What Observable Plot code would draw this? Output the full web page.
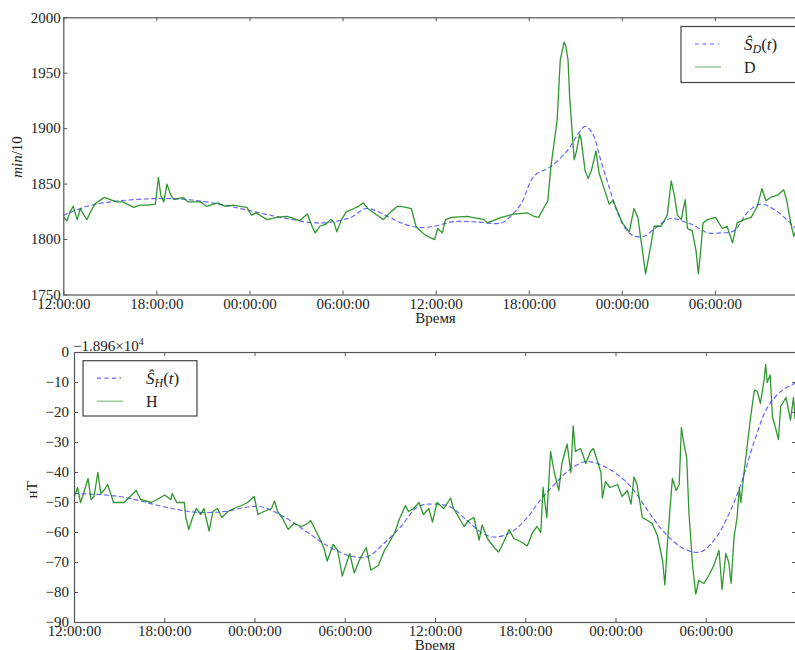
<!DOCTYPE html>
<html><head><meta charset="utf-8">
<script src="https://cdn.jsdelivr.net/npm/d3@7"></script>
<script src="https://cdn.jsdelivr.net/npm/@observablehq/plot@0.6"></script>
<style>
html,body{margin:0;padding:0;overflow:hidden;background:#fff;width:795px;height:650px;}
#c svg{display:block;max-width:none !important;}
</style></head><body><div id="c"></div>
<script>
// ---- data (hours after 12:00:00 of day 1) ----
const dHours = [0,0.2,0.4,0.6,0.86,1.07,1.3,1.5,1.75,2.0,
  2.4,2.6,3.0,3.4,3.8,4.1,4.5,4.9,5.4,5.9,
  6.1,6.25,6.45,6.65,6.9,7.1,7.7,8.0,8.8,9.2,
  9.9,10.4,10.9,11.8,12.1,12.4,13.1,13.7,14.4,15.2,
  15.7,16.0,16.2,16.5,16.9,17.2,17.4,17.6,17.9,18.2,
  18.7,19.0,19.3,19.6,20.2,20.6,21.0,21.5,21.75,22.4,
  22.7,22.9,23.3,23.9,24.1,24.4,24.6,25.0,26.0,27.1,
  27.3,28.2,29.0,29.9,30.3,30.6,31.0,31.2,31.4,31.6,
  31.8,32.0,32.25,32.35,32.5,32.6,32.75,32.9,33.05,33.25,
  33.35,33.6,33.8,34.0,34.3,34.5,34.85,35.15,35.4,35.7,
  36.0,36.45,36.75,37.0,37.2,37.5,37.75,38.05,38.5,38.9,
  39.15,39.35,39.55,39.8,40.05,40.2,40.5,40.75,40.9,41.05,
  41.2,41.5,42.0,42.45,42.75,43.1,43.4,43.85,44.3,44.7,
  45.0,45.25,45.55,46.0,46.4,46.6,46.85,47.05,47.3,47.6,48.0];
const dValues = [1820,1817,1825,1830,1818,1828,1822,1818,1826,1832,
  1836,1838,1836,1834,1834,1832,1829,1831,1831,1832,
  1856,1840,1834,1850,1840,1836,1838,1834,1834,1830,
  1833,1830,1831,1829,1822,1824,1818,1820,1821,1817,
  1823,1812,1806,1812,1814,1818,1816,1807,1818,1825,
  1828,1830,1833,1828,1822,1818,1824,1830,1830,1828,
  1812,1809,1804,1800,1810,1806,1818,1820,1821,1818,
  1815,1820,1823,1824,1821,1820,1830,1835,1866,1887,
  1908,1962,1978,1975,1962,1930,1900,1872,1880,1895,
  1890,1862,1855,1862,1880,1860,1845,1832,1835,1825,
  1815,1807,1828,1820,1800,1769,1788,1812,1812,1822,
  1853,1840,1822,1818,1836,1810,1808,1790,1769,1790,
  1815,1818,1820,1810,1812,1797,1815,1818,1820,1830,
  1846,1835,1838,1840,1845,1835,1815,1803,1812,1808,1810];

const sdHours = [0,1.5,3,6,8,10,12,14,16.5,18.5,
  19.5,21,21.75,22.8,23.9,25,26.5,28.2,28.8,29.5,
  30.3,31.4,32.5,33.0,33.6,34.1,34.6,35.2,35.7,36.3,
  36.8,37.4,38.1,39.1,40.0,40.6,41.5,42.3,43.2,44.1,
  44.9,45.8,46.6,47.2,48];
const sdValues = [1822,1830,1834,1837,1836,1832,1826,1820,1815,1820,
  1828,1820,1815,1811,1812,1816,1816,1815,1821,1833,
  1857,1866,1881,1892,1902,1895,1872,1845,1824,1808,
  1803,1803,1810,1819,1816,1813,1806,1806,1808,1825,
  1832,1827,1818,1810,1805];

const hHours = [0,0.2,0.4,0.6,0.9,1.1,1.3,1.55,1.75,1.95,
  2.2,2.4,2.6,3.3,3.7,4.1,4.4,5.1,5.5,6.0,
  6.4,6.5,6.8,7.3,7.4,7.6,7.85,8.1,8.4,8.6,
  8.95,9.2,9.5,9.8,10.2,10.6,11.1,11.5,11.95,12.2,
  12.6,13.1,13.3,13.5,13.8,14.2,14.6,15.1,15.5,15.7,
  16.1,16.4,16.6,16.8,17.2,17.5,17.8,18.3,18.6,19.0,
  19.4,19.7,20.2,20.6,20.85,21.3,21.6,22.0,22.2,22.55,
  22.9,23.2,23.55,23.8,24.1,24.55,25.0,25.2,25.55,25.9,
  26.2,26.55,26.9,27.1,27.45,27.9,28.2,28.55,28.9,29.2,
  29.65,30.1,30.45,30.75,31.0,31.15,31.4,31.65,31.9,32.2,
  32.4,32.75,33.0,33.15,33.3,33.65,34.0,34.3,34.5,34.75,
  35.0,35.1,35.3,35.6,36.1,36.4,36.75,37.0,37.2,37.4,
  37.75,38.1,38.4,38.75,39.1,39.25,39.4,39.6,39.75,40.0,
  40.2,40.35,40.5,40.7,40.85,41.1,41.3,41.5,41.85,42.2,
  42.5,42.85,43.05,43.3,43.5,43.65,43.85,44.05,44.2,44.3,
  44.5,44.75,44.95,45.2,45.4,45.6,45.85,45.95,46.05,46.25,
  46.4,46.6,46.8,46.95,47.3,47.6,47.8,47.9,48.0];
const hValues = [-48,-45,-50,-47,-42,-49,-48,-40,-47,-46,
  -44,-47,-50,-50,-48,-46,-49,-50,-49,-47.5,
  -49,-47,-50,-50,-55,-59,-55,-52,-54,-52,
  -59.5,-53,-52,-55,-53,-52,-51,-50,-48,-54,
  -53,-52,-49.5,-53,-55,-59,-57,-58,-57,-56,
  -60,-63,-65.5,-69.5,-64,-66,-74.5,-67,-73.5,-68.5,
  -65,-72.5,-71,-66,-64,-60,-55.5,-51,-53,-52,
  -50,-54,-52,-56.5,-50,-52,-48.5,-52,-55,-58,
  -56,-55,-62.5,-57.5,-62,-65,-66.5,-63,-59,-62,
  -63,-64.5,-60,-58,-60,-45,-55,-33,-40,-46,
  -37,-30.5,-40,-24.5,-33,-32,-37,-33,-32,-36,
  -40,-48.5,-43,-45,-44,-48,-46,-50.5,-41.5,-44,
  -55,-56,-57,-61,-69.5,-77.5,-65,-51.5,-42,-46,
  -44,-25,-30,-35,-53.5,-71.5,-80.5,-76,-77,-74,
  -71,-66,-79,-67,-70,-77,-61.5,-55,-45,-50,
  -40.5,-30,-21.5,-12.5,-13,-17,-9,-4,-10,-7.5,
  -21.5,-25,-29,-18,-15,-22.5,-15,-22,-20];

const shHours = [0,3,6,8,10,11.5,12.5,14,15.5,17,
  18.5,19.5,20.5,21.7,22.8,23.9,25.0,26.1,27.2,28.1,
  29.2,30.1,31.0,31.9,32.75,33.85,34.75,35.9,37.0,38.1,
  39.2,40.5,41.6,42.5,43.4,44.3,45.2,46.05,46.95,47.8,48];
const shValues = [-47,-48,-51.5,-53.2,-53,-51.5,-51.5,-55,-60,-65,
  -68,-68,-64,-58,-51.5,-50.5,-51.5,-56,-60.5,-61.5,
  -59.3,-55,-49,-44,-39.8,-36.5,-37,-40,-44.8,-52.6,
  -59.9,-65.4,-66.5,-62.7,-55,-44,-29.5,-18.5,-13,-10.5,-10];

const tickHours = [0,6,12,18,24,30,36,42,48];
const labelHours = [0,6,12,18,24,30,36,42];
const yTicksD = [1750,1800,1850,1900,1950,2000];
const yTicksH = [0,-10,-20,-30,-40,-50,-60,-70,-80,-90];
const xLabel = "Время";
const offsetText = "\u22121.896\u00d710";

// ---- helpers ----
const base = Date.UTC(2015,0,1,12,0,0);
const toDate = h => new Date(base + h*3600e3);
const zip = (hs, vs) => hs.map((h,i) => ({t: toDate(h), v: vs[i]}));
const dData = zip(dHours, dValues), sdData = zip(sdHours, sdValues);
const hData = zip(hHours, hValues), shData = zip(shHours, shValues);
const xTicks = tickHours.map(toDate);
const xLabelTicks = labelHours.map(toDate);
const fmtTime = d3.utcFormat("%H:%M:%S");
const fmtNum = d => d < 0 ? "\u2212" + (-d) : String(d);
const FONT = "'Liberation Serif', 'Times New Roman', serif";
const SPINE = "#555";
const GREEN = "#008000", BLUE = "#0000ff";

function panel({W, H, mL, mR, mT, mB, yDomain, yTicks, pad, green, blue}) {
  const pw = W - mL - mR, ph = H - mT - mB;
  return Plot.plot({
    width: W, height: H, marginLeft: mL, marginRight: mR, marginTop: mT, marginBottom: mB,
    style: {fontFamily: FONT, fontSize: "15px", color: "#222", background: "white",
            maxWidth: "none", width: W + "px", height: H + "px"},
    x: {type: "utc", domain: [toDate(0), toDate(48)]},
    y: {domain: yDomain},
    marks: [
      Plot.axisX({ticks: xLabelTicks, tickSize: 0, tickPadding: 3, tickFormat: fmtTime, label: null,
                  fontSize: 15, fontFamily: FONT}),
      Plot.axisY({ticks: yTicks, tickSize: 0, tickPadding: pad, tickFormat: fmtNum, label: null,
                  fontSize: 15, fontFamily: FONT}),
      Plot.line(blue, {x: "t", y: "v", curve: "catmull-rom", stroke: BLUE, strokeOpacity: 0.6, strokeWidth: 1.2, strokeDasharray: "4,3.5"}),
      Plot.line(green, {x: "t", y: "v", stroke: GREEN, strokeOpacity: 0.82, strokeWidth: 1.3}),
      Plot.tickX(xTicks, {x: d => d, insetBottom: ph - 4, stroke: SPINE}),
      Plot.tickX(xTicks, {x: d => d, insetTop: ph - 4, stroke: SPINE}),
      Plot.tickY(yTicks, {y: d => d, insetRight: pw - 4, stroke: SPINE}),
      Plot.tickY(yTicks, {y: d => d, insetLeft: pw - 4, stroke: SPINE}),
      Plot.frame({stroke: SPINE, strokeWidth: 1.2})
    ]
  });
}

function txt(sel, x, y, size, anchor) {
  return sel.append("text").attr("x", x).attr("y", y).attr("fill", "#222")
    .attr("text-anchor", anchor || "start")
    .style("font-family", FONT).style("font-size", size + "px");
}

function mathLabel(g, x, y, sub) {
  const t = txt(g, x, y, 17);
  t.append("tspan").style("font-style", "italic").text("\u015C");
  t.append("tspan").style("font-style", "italic").style("font-size", "12px").attr("dy", 3).text(sub);
  t.append("tspan").attr("dy", -3).text("(");
  t.append("tspan").style("font-style", "italic").text("t");
  t.append("tspan").text(")");
}

function legend(svg, x, y, w, h, sub, name) {
  const g = d3.select(svg).append("g");
  g.append("rect").attr("x", x).attr("y", y).attr("width", w).attr("height", h)
    .attr("fill", "white").attr("stroke", "#444").attr("stroke-width", 1.2);
  g.append("line").attr("x1", x + 14).attr("x2", x + 38).attr("y1", y + 17.5).attr("y2", y + 17.5)
    .attr("stroke", BLUE).attr("stroke-opacity", 0.6).attr("stroke-width", 1.2).attr("stroke-dasharray", "4,3.5");
  g.append("line").attr("x1", x + 14).attr("x2", x + 40).attr("y1", y + 40.5).attr("y2", y + 40.5)
    .attr("stroke", GREEN).attr("stroke-opacity", 0.5).attr("stroke-width", 1.2);
  mathLabel(g, x + 63, y + 23, sub);
  txt(g, x + 63, y + 46, 16).text(name);
}

const container = document.getElementById("c");

// ---- top panel ----
const topSvg = panel({W: 810, H: 330, mL: 63.3, mR: 2, mT: 17.3, mB: 35.5,
  yDomain: [1750, 2000], yTicks: yTicksD, pad: 3, green: dData, blue: sdData});
container.appendChild(topSvg);
legend(topSvg, 681, 26.5, 140, 56, "D", "D");
{
  const s = d3.select(topSvg);
  const t = s.append("text").attr("transform", "translate(21.5,157) rotate(-90)")
    .attr("text-anchor", "middle").attr("fill", "#222")
    .style("font-family", FONT).style("font-size", "15px");
  t.append("tspan").style("font-style", "italic").text("min");
  t.append("tspan").text("/10");
  txt(s, 435.5, 323, 15, "middle").text(xLabel);
}

// ---- bottom panel ----
const botSvg = panel({W: 797, H: 320, mL: 74, mR: 1, mT: 22, mB: 28,
  yDomain: [-90, 0], yTicks: yTicksH, pad: 5.5, green: hData, blue: shData});
container.appendChild(botSvg);
legend(botSvg, 83, 30.7, 114, 55.3, "H", "H");
{
  const s = d3.select(botSvg);
  s.append("text").attr("transform", "translate(37,160) rotate(-90)")
    .attr("text-anchor", "middle").attr("fill", "#222")
    .style("font-family", FONT).style("font-size", "15px").text("нТ");
  txt(s, 435, 320, 15, "middle").text(xLabel);
  const o = txt(s, 73, 21, 15);
  o.append("tspan").text(offsetText);
  o.append("tspan").attr("dy", -6).style("font-size", "10px").text("4");
}
</script></body></html>
